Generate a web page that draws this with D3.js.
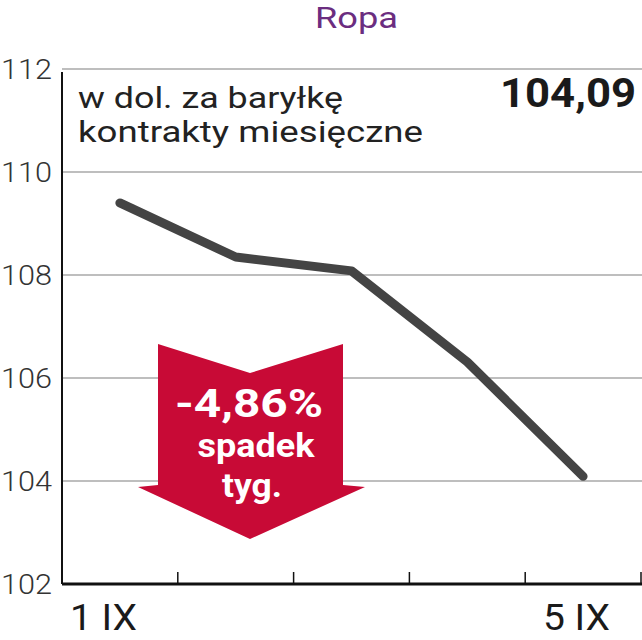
<!DOCTYPE html>
<html>
<head>
<meta charset="utf-8">
<script src="https://cdn.jsdelivr.net/npm/d3@7"></script>
<style>
  html, body { margin: 0; padding: 0; background: #fff; }
  svg { display: block; }
</style>
</head>
<body>
<svg id="chart" width="642" height="640"></svg>
<script>
// Oil price, USD per barrel, monthly contracts
const days = ["1 IX", "2 IX", "3 IX", "4 IX", "5 IX"];
const prices = [109.40, 108.35, 108.08, 106.31, 104.09];
const yTicks = [102, 104, 106, 108, 110, 112];
const shownDays = ["1 IX", "5 IX"];
const lastValue = "104,09";
const changeLabel = ["-4,86%", "spadek", "tyg."];

const svg = d3.select("#chart");
const plotLeft = 62, plotRight = 641, plotTop = 69, plotBottom = 584;
const font = "Roboto, 'Noto Sans', sans-serif";

const x = d3.scaleBand().domain(days).range([plotLeft, plotRight]).padding(0);
const y = d3.scaleLinear().domain([102, 112]).range([plotBottom, plotTop]);

// title
svg.append("text")
  .attr("x", 315).attr("y", 28)
  .attr("font-family", font)
  .attr("font-size", 30)
  .attr("textLength", 83).attr("lengthAdjust", "spacingAndGlyphs")
  .attr("fill", "#6b2d80")
  .text("Ropa");

// horizontal grid
svg.append("g")
  .selectAll("line")
  .data(yTicks.filter(d => d > 102))
  .join("line")
  .attr("x1", plotLeft).attr("x2", 642)
  .attr("y1", d => y(d)).attr("y2", d => y(d))
  .attr("stroke", "#a8a8a8")
  .attr("stroke-width", 1.5);

// y tick labels
svg.append("g")
  .selectAll("text")
  .data(yTicks)
  .join("text")
  .attr("x", 1)
  .attr("y", d => y(d))
  .attr("dy", "0.36em")
  .attr("font-family", font)
  .attr("font-weight", 300)
  .attr("font-size", 28)
  .attr("textLength", 51).attr("lengthAdjust", "spacingAndGlyphs")
  .attr("fill", "#333")
  .text(d => d);

// y axis line
svg.append("line")
  .attr("x1", plotLeft).attr("x2", plotLeft)
  .attr("y1", plotTop + 3).attr("y2", plotBottom)
  .attr("stroke", "#111").attr("stroke-width", 2);

// unit description
const sub = svg.append("text")
  .attr("font-family", font)
  .attr("font-size", 30)
  .attr("fill", "#222");
sub.append("tspan").attr("x", 78).attr("y", 108)
  .attr("textLength", 265).attr("lengthAdjust", "spacingAndGlyphs")
  .text("w dol. za baryłkę");
sub.append("tspan").attr("x", 78).attr("y", 142)
  .attr("textLength", 345).attr("lengthAdjust", "spacingAndGlyphs")
  .text("kontrakty miesięczne");

// latest value
svg.append("text")
  .attr("x", 636).attr("y", 107)
  .attr("text-anchor", "end")
  .attr("font-family", font)
  .attr("font-weight", 700)
  .attr("font-size", 40)
  .attr("textLength", 136).attr("lengthAdjust", "spacingAndGlyphs")
  .attr("fill", "#1a1a1a")
  .text(lastValue);

// weekly change arrow
const ax = 250;
const arrowPts = [
  [ax - 92, 344], [ax, 373], [ax + 93, 344], [ax + 93, 485],
  [ax + 115, 487], [ax, 539], [ax - 112, 487], [ax - 92, 485]
];
svg.append("path")
  .attr("d", d3.line()(arrowPts) + "Z")
  .attr("fill", "#c80a36");

const arrowText = svg.append("g")
  .attr("font-family", font)
  .attr("font-weight", 700)
  .attr("fill", "#fff")
  .attr("text-anchor", "middle");
arrowText.append("text").attr("x", ax - 1).attr("y", 417)
  .attr("font-size", 39).attr("textLength", 148).attr("lengthAdjust", "spacingAndGlyphs")
  .text(changeLabel[0]);
arrowText.append("text").attr("x", ax + 6).attr("y", 457)
  .attr("font-size", 34).attr("textLength", 117).attr("lengthAdjust", "spacingAndGlyphs")
  .text(changeLabel[1]);
arrowText.append("text").attr("x", ax + 2).attr("y", 497)
  .attr("font-size", 34).attr("textLength", 60).attr("lengthAdjust", "spacingAndGlyphs")
  .text(changeLabel[2]);

// price line
svg.append("path")
  .datum(prices)
  .attr("d", d3.line()
    .x((d, i) => x(days[i]) + x.bandwidth() / 2)
    .y(d => y(d)))
  .attr("fill", "none")
  .attr("stroke", "#444")
  .attr("stroke-width", 9)
  .attr("stroke-linecap", "round")
  .attr("stroke-linejoin", "round");

// x axis with band-boundary ticks
svg.append("line")
  .attr("x1", plotLeft).attr("x2", 642)
  .attr("y1", plotBottom).attr("y2", plotBottom)
  .attr("stroke", "#111").attr("stroke-width", 3);
svg.append("g")
  .selectAll("line")
  .data(days)
  .join("line")
  .attr("x1", d => x(d) + x.bandwidth()).attr("x2", d => x(d) + x.bandwidth())
  .attr("y1", plotBottom).attr("y2", plotBottom - 12)
  .attr("stroke", "#111").attr("stroke-width", 1.5);

// first and last day labels
svg.append("g")
  .selectAll("text")
  .data(shownDays)
  .join("text")
  .attr("x", (d, i) => i === 0 ? x(d) + 8 : x(d) + x.bandwidth() - 31)
  .attr("y", 630)
  .attr("text-anchor", (d, i) => i === 0 ? "start" : "end")
  .attr("font-family", font)
  .attr("font-size", 36)
  .attr("textLength", 67).attr("lengthAdjust", "spacingAndGlyphs")
  .attr("fill", "#1a1a1a")
  .text(d => d);
</script>
</body>
</html>
